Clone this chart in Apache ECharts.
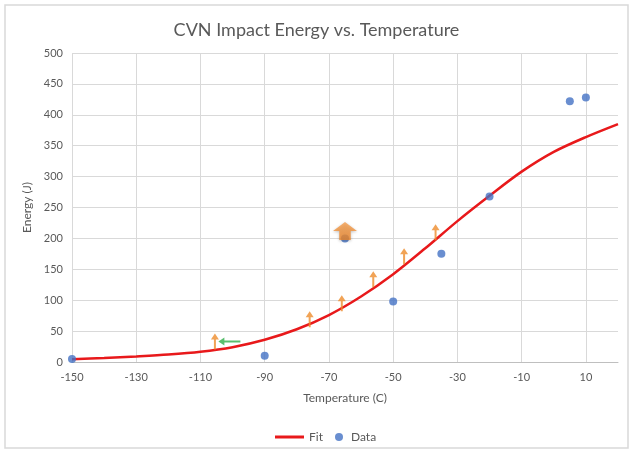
<!DOCTYPE html>
<html>
<head>
<meta charset="utf-8">
<script src="https://cdn.jsdelivr.net/npm/echarts@6/dist/echarts.min.js"></script>
<style>
html,body{margin:0;padding:0;background:#fff;}
#c{width:633px;height:451px;}
</style>
</head>
<body>
<div id="c"></div>
<script>
// Fitted curve
const fitTemps  = [-150,-140,-130,-120,-110,-100,-90,-80,-70,-60,-50,-40,-30,-20,-10,0,10,20];
const fitEnergy = [4.5,6.5,9,12,16.5,24,36,53,76,106,142,184,228,269,308,340,364,385];
// Measured data
const dataTemps  = [-150,-90,-65,-50,-35,-20,5,10];
const dataEnergy = [5,10,200,98,175,268,422,428];
// Orange "lower bound" arrows (centres)
const upTemps  = [-105.5,-76,-66,-56.2,-46.6,-36.8];
const upEnergy = [33,69,95,134,171,210];
// Big orange arrow
const bigTemps = [-65];
const bigEnergy = [212];
// Green left arrow
const leftTemps = [-101];
const leftEnergy = [33];
// Axis ticks
const xTicks = [-150,-130,-110,-90,-70,-50,-30,-10,10];

const zip = (a,b)=>a.map((v,i)=>[v,b[i]]);
const txt = '#595959';
const gridC = '#d9d9d9';
const font = 'Lato, "Open Sans", sans-serif';

const chart = echarts.init(document.getElementById('c'), null, {renderer:'canvas'});
chart.setOption({
  animation:false,
  backgroundColor:'#fff',
  graphic:[{type:'rect', shape:{x:5,y:5,width:623,height:443}, style:{fill:'none', stroke:'#d9d9d9', lineWidth:1.5}, silent:true}],
  title:{text:'CVN Impact Energy vs. Temperature', left:'center', top:16,
    textStyle:{color:txt, fontSize:18, fontWeight:'normal', fontFamily:font}},
  grid:{left:72, right:15, top:53, bottom:89, containLabel:false},
  legend:[
    {left:270, top:426, itemWidth:29, itemHeight:3, icon:'rect',
      textStyle:{color:txt, fontSize:12, fontFamily:font}, data:['Fit']},
    {left:330, top:426, itemWidth:14, itemHeight:8, icon:'circle',
      textStyle:{color:txt, fontSize:12, fontFamily:font}, data:['Data']}
  ],
  xAxis:{type:'value', min:-150, max:20,
    name:'Temperature (C)', nameLocation:'middle', nameGap:30,
    nameTextStyle:{color:txt, fontSize:12, fontFamily:font},
    axisLine:{show:true, onZero:false, lineStyle:{color:'#bfbfbf', width:1}},
    axisTick:{show:false, customValues:xTicks},
    axisLabel:{color:txt, fontSize:11, fontFamily:font, margin:10, customValues:xTicks},
    splitLine:{show:true, lineStyle:{color:gridC, width:1}}},
  yAxis:{type:'value', min:0, max:500, interval:50,
    name:'Energy (J)', nameLocation:'middle', nameGap:31, nameRotate:90,
    nameTextStyle:{color:txt, fontSize:12, fontFamily:font},
    axisLine:{show:false}, axisTick:{show:false},
    axisLabel:{color:txt, fontSize:11, fontFamily:font, margin:9},
    splitLine:{show:true, lineStyle:{color:gridC, width:1}}},
  series:[
    {name:'Fit', type:'line', data:zip(fitTemps,fitEnergy), smooth:0.3, symbol:'none',
      lineStyle:{color:'#e8191b', width:2.5}, itemStyle:{color:'#e8191b'}, z:2},
    {name:'Data', type:'scatter', data:zip(dataTemps,dataEnergy), symbol:'circle', symbolSize:8,
      itemStyle:{color:'#4472c4'}, z:3},
    {name:'up', type:'scatter', data:zip(upTemps,upEnergy),
      symbol:'path://M4,0 L8,6 L5,6 L5,16 L3,16 L3,6 L0,6 Z', symbolSize:[8,16],
      itemStyle:{color:'#ee8c2c'}, z:4},
    {name:'left', type:'scatter', data:zip(leftTemps,leftEnergy),
      symbol:'path://M0,4 L6,0 L6,3 L22,3 L22,5 L6,5 L6,8 Z', symbolSize:[22,8],
      itemStyle:{color:'#2fae4a'}, z:5},
    {name:'big', type:'scatter', data:zip(bigTemps,bigEnergy),
      symbol:'path://M11.5,0 L23,9 L17,9 L17,18 L6,18 L6,9 L0,9 Z', symbolSize:[24,18],
      itemStyle:{color:new echarts.graphic.LinearGradient(0,0,0,1,[{offset:0,color:'#f6a050'},{offset:1,color:'#ec8426'}]),
        shadowBlur:3, shadowColor:'rgba(0,0,0,0.3)', shadowOffsetY:1}, z:6}
  ]
});
</script>
</body>
</html>
